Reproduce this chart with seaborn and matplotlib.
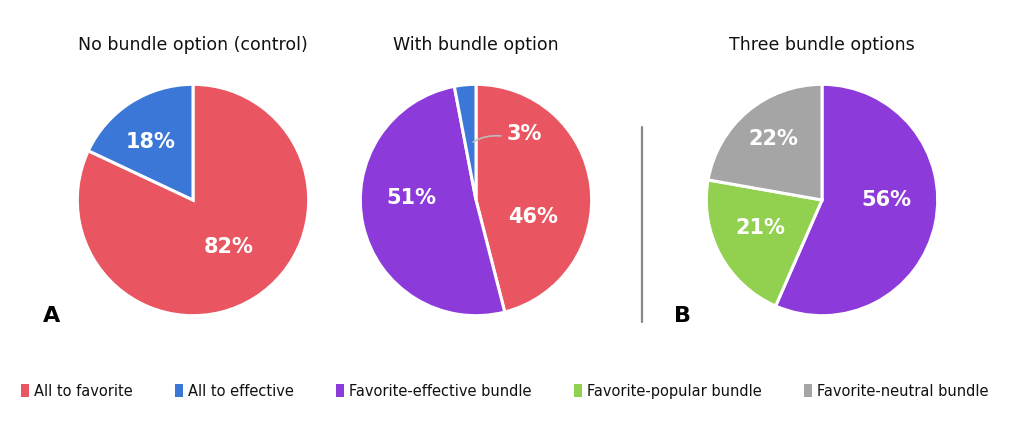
import matplotlib
matplotlib.use("Agg")
import matplotlib.pyplot as plt
from matplotlib.lines import Line2D
from matplotlib.patches import Patch
import numpy as np
import seaborn as sns

# chart data
categories = ["All to favorite", "All to effective", "Favorite-effective bundle",
              "Favorite-popular bundle", "Favorite-neutral bundle"]
panel_titles = ["No bundle option (control)", "With bundle option", "Three bundle options"]

control_labels = ["All to favorite", "All to effective"]
control_share = [82, 18]

bundle_labels = ["All to favorite", "Favorite-effective bundle", "All to effective"]
bundle_share = [46, 51, 3]

three_labels = ["Favorite-effective bundle", "Favorite-popular bundle", "Favorite-neutral bundle"]
three_share = [56, 21, 22]

palette = dict(zip(categories, ["#E95662", "#3B77D6", "#8C3AD9", "#92D04F", "#A5A5A5"]))

sns.set_theme(style="white")
plt.rcParams["font.family"] = ["DejaVu Sans"]

W, H = 1024, 436
fig = plt.figure(figsize=(W / 100, H / 100), dpi=100)
fig.patch.set_facecolor("white")

R = 118  # pie radius in px
centers = [(193, 200), (476, 200), (822, 200)]
panels = [
    (control_labels, control_share),
    (bundle_labels, bundle_share),
    (three_labels, three_share),
]
# percentage label offsets (in units of radius) for each wedge
label_pos = [
    [(0.31, -0.41), (-0.37, 0.50)],
    [(0.49, -0.15), (-0.56, 0.02), (0.42, 0.57)],
    [(0.56, 0.0), (-0.53, -0.24), (-0.42, 0.53)],
]

for i, ((labels, share), (cx, cy)) in enumerate(zip(panels, centers)):
    ax = fig.add_axes([(cx - R) / W, (H - cy - R) / H, 2 * R / W, 2 * R / H])
    wedges, _ = ax.pie(share, colors=[palette[l] for l in labels], startangle=90,
                       counterclock=False, radius=1,
                       wedgeprops=dict(edgecolor="white", linewidth=2.2))
    ax.set_xlim(-1.02, 1.02)
    ax.set_ylim(-1.02, 1.02)
    ax.set_aspect("equal")
    ax.axis("off")
    for val, (dx, dy) in zip(share, label_pos[i]):
        ax.text(dx, dy, f"{val}%", ha="center", va="center", color="white",
                fontsize=15, fontweight="bold")
    if i == 1:
        # leader line for small slice
        w = wedges[2]
        mid = np.deg2rad((w.theta1 + w.theta2) / 2)
        ax.annotate("", xy=(0.24, 0.55), xytext=(0.49 * np.cos(mid), 0.49 * np.sin(mid)),
                    arrowprops=dict(arrowstyle="-", color="#BBBBBB", lw=1.2,
                                    connectionstyle="arc3,rad=-0.2"))
    fig.text(cx / W, 1 - 45 / H, panel_titles[i], ha="center", va="center",
             fontsize=12.5, color="#111111")

fig.text(52 / W, 1 - 316 / H, "A", ha="center", va="center", fontsize=16,
         fontweight="bold", color="black")
fig.text(683 / W, 1 - 316 / H, "B", ha="center", va="center", fontsize=16,
         fontweight="bold", color="black")
fig.add_artist(Line2D([642 / W, 642 / W], [1 - 127 / H, 1 - 322 / H],
                      color="#888888", lw=1.6))

handles = [Patch(facecolor=palette[c], edgecolor="none", label=c) for c in categories]
leg = fig.legend(handles=handles, loc="center", bbox_to_anchor=(0.493, 1 - 391 / H), ncol=5,
                 frameon=False, fontsize=10.5, handlelength=0.55, handleheight=0.9,
                 handletextpad=0.35, columnspacing=2.9)
for t in leg.get_texts():
    t.set_color("#111111")

fig.savefig("out.png", dpi=100, facecolor="white")
